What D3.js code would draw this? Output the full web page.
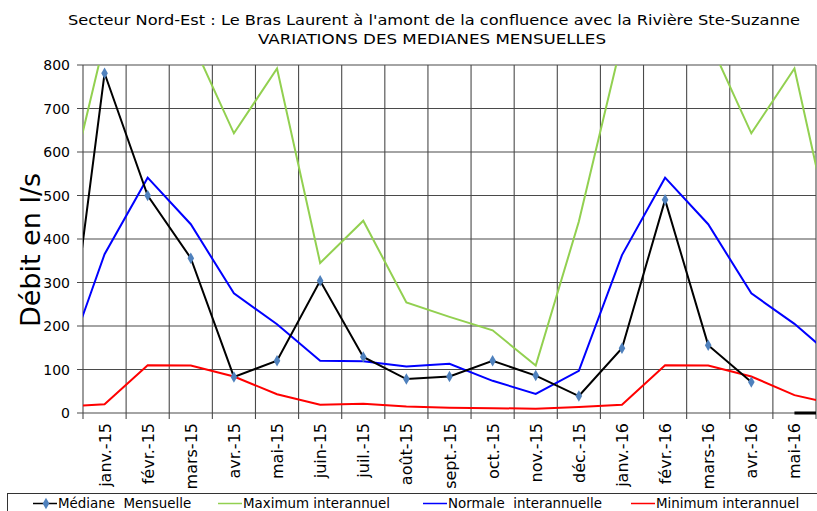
<!DOCTYPE html>
<html>
<head>
<meta charset="utf-8">
<script src="https://cdn.jsdelivr.net/npm/d3@7"></script>
<style>
  body { margin: 0; background: #fff; }
  svg { display: block; font-family: "DejaVu Sans", Verdana, sans-serif; }
</style>
</head>
<body>
<svg id="chart" width="817" height="511"></svg>
<script>
// mois (déc.-14 et juin-16 sont hors cadre, ils servent au prolongement des courbes)
var mois = ["déc.-14", "janv.-15", "févr.-15", "mars-15", "avr.-15", "mai-15", "juin-15",
  "juil.-15", "août-15", "sept.-15", "oct.-15", "nov.-15", "déc.-15", "janv.-16",
  "févr.-16", "mars-16", "avr.-16", "mai-16", "juin-16"];
var moisVisibles = mois.slice(1, 18);

// médiane mensuelle déc.-14 -> avr.-16, puis mai-16 / juin-16 à 0
var mediane = [10, 781, 500, 356, 83, 120, 304, 129, 78, 84, 120, 86, 39, 149, 490, 156, 71];
var medianeFin = [0, 0];
var maximum = [440, 856, 1000, 860, 643, 792, 345, 442, 254, 221, 190, 109, 440, 856, 1000, 860, 643, 792, 345];
var normale = [85, 365, 541, 434, 275, 204, 120, 119, 107, 113, 74, 44, 97, 363, 541, 434, 275, 205, 120];
var minimum = [14, 20, 110, 109, 84, 43, 19, 21, 15, 12, 11, 10, 14, 19, 110, 109, 84, 41, 19];
var yTicks = [0, 100, 200, 300, 400, 500, 600, 700, 800];

var titre1 = "Secteur Nord-Est : Le Bras Laurent à l'amont de la confluence avec la Rivière Ste-Suzanne";
var titre2 = "VARIATIONS DES MEDIANES MENSUELLES";

var margin = {left: 83, top: 65, right: 1, bottom: 98};
var W = 817, H = 511;
var width = W - margin.left - margin.right;
var height = H - margin.top - margin.bottom;

var svg = d3.select("#chart");

// index de catégorie -> frontière, centre = i + 0.5 (déc.-14 = -1)
var x = d3.scaleLinear().domain([0, moisVisibles.length]).range([margin.left, margin.left + width]);
var xc = function(i) { return x(i + 0.5); };
var y = d3.scaleLinear().domain([0, 800]).range([margin.top + height, margin.top]);

svg.append("defs").append("clipPath").attr("id", "clip")
  .append("rect")
  .attr("x", margin.left).attr("y", margin.top)
  .attr("width", width).attr("height", height + 3);

// titre
svg.append("text").attr("x", 434).attr("y", 25).attr("text-anchor", "middle")
  .attr("textLength", 732).attr("lengthAdjust", "spacingAndGlyphs")
  .style("font-size", "14.2px").text(titre1);
svg.append("text").attr("x", 432).attr("y", 44).attr("text-anchor", "middle")
  .attr("textLength", 348).attr("lengthAdjust", "spacingAndGlyphs")
  .style("font-size", "14.2px").text(titre2);

// grille
var gridColor = "#4a4a4a";
svg.append("g").selectAll("line").data(yTicks).enter().append("line")
  .attr("x1", margin.left - 6).attr("x2", margin.left + width)
  .attr("y1", d => y(d)).attr("y2", d => y(d))
  .style("stroke", gridColor).style("stroke-width", 1.1);
svg.append("g").selectAll("line").data(d3.range(moisVisibles.length + 1)).enter().append("line")
  .attr("x1", d => x(d)).attr("x2", d => x(d))
  .attr("y1", margin.top).attr("y2", margin.top + height + 6)
  .style("stroke", gridColor).style("stroke-width", 1.1);

// axe y
svg.append("g").selectAll("text").data(yTicks).enter().append("text")
  .attr("x", 70).attr("y", d => y(d)).attr("dy", "0.36em")
  .attr("text-anchor", "end").style("font-size", "14px")
  .text(d => d);

svg.append("text")
  .attr("transform", "translate(40," + 250 + ") rotate(-90)")
  .attr("text-anchor", "middle").style("font-size", "27px")
  .text("Débit en l/s");

// étiquettes x
svg.append("g").selectAll("text").data(moisVisibles).enter().append("text")
  .attr("transform", (d, i) => "translate(" + (xc(i) + 6) + ",423) rotate(-90)")
  .attr("text-anchor", "end").style("font-size", "16px")
  .text(d => d);

// courbes
var line = d3.line()
  .x(d => xc(d.i))
  .y(d => y(d.v));

function serie(vals, start) {
  return vals.map((v, k) => ({i: start + k, v: v}));
}

var plot = svg.append("g").attr("clip-path", "url(#clip)");

plot.append("path").datum(serie(minimum, -1))
  .attr("d", line).style("fill", "none").style("stroke", "#ff0000").style("stroke-width", "2px");
plot.append("path").datum(serie(normale, -1))
  .attr("d", line).style("fill", "none").style("stroke", "#0000ff").style("stroke-width", "2px");
plot.append("path").datum(serie(maximum, -1))
  .attr("d", line).style("fill", "none").style("stroke", "#92d050").style("stroke-width", "2px");
plot.append("path").datum(serie(mediane, -1))
  .attr("d", line).style("fill", "none").style("stroke", "#000").style("stroke-width", "2px");
plot.append("path").datum(serie(medianeFin, 16))
  .attr("d", line).style("fill", "none").style("stroke", "#000").style("stroke-width", "3px");

var diamond = d3.symbol().type(d3.symbolDiamond).size(38);
plot.append("g").selectAll("path").data(serie(mediane, -1).filter(d => d.i >= 0)).enter().append("path")
  .attr("d", diamond)
  .attr("transform", d => "translate(" + xc(d.i) + "," + y(d.v) + ")")
  .style("fill", "#4f81bd");

// légende
var leg = svg.append("g");
leg.append("rect").attr("x", 7.5).attr("y", 493.5).attr("width", 900).attr("height", 40)
  .style("fill", "#fff").style("stroke", "#333");

var legende = [
  {nom: "Médiane  Mensuelle", c: "#000", x0: 33, marker: true},
  {nom: "Maximum interannuel", c: "#92d050", x0: 218},
  {nom: "Normale  interannuelle", c: "#0000ff", x0: 423},
  {nom: "Minimum interannuel", c: "#ff0000", x0: 631}
];
legende.forEach(function(d) {
  leg.append("line").attr("x1", d.x0).attr("x2", d.x0 + 24)
    .attr("y1", 503.5).attr("y2", 503.5)
    .style("stroke", d.c).style("stroke-width", 1.5);
  if (d.marker) {
    leg.append("path").attr("d", diamond)
      .attr("transform", "translate(" + (d.x0 + 13) + ",503.5)")
      .style("fill", "#4f81bd");
  }
  leg.append("text").attr("x", d.x0 + 25).attr("y", 508)
    .style("font-size", "13.4px").style("white-space", "pre").attr("xml:space", "preserve")
    .text(d.nom);
});
</script>
</body>
</html>
